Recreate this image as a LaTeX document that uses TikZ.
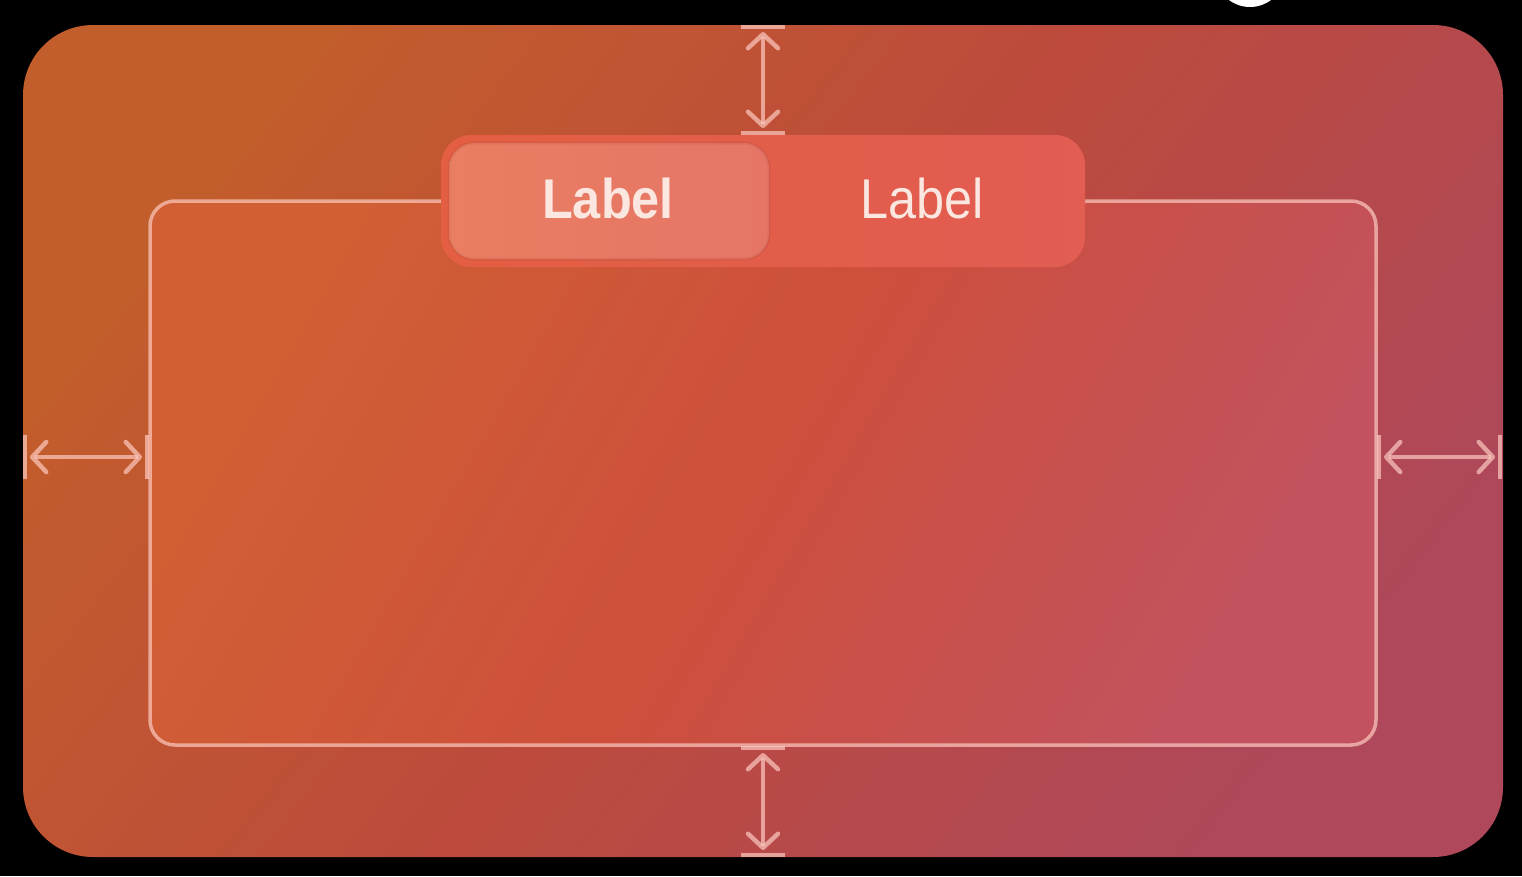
\documentclass[tikz,border=0pt]{standalone}
\usepackage{fontspec}
\setmainfont{Liberation Sans}[FakeStretch=0.9]
\usetikzlibrary{arrows.meta, positioning}
\definecolor{frameorange}{RGB}{194,93,44}
\definecolor{framered}{RGB}{189,74,60}
\definecolor{framepink}{RGB}{174,72,90}
\definecolor{innerorange}{RGB}{208,95,52}
\definecolor{innerred}{RGB}{205,79,60}
\definecolor{innerpink}{RGB}{194,82,94}
\definecolor{segleft}{RGB}{227,94,66}
\definecolor{segright}{RGB}{226,93,82}
\definecolor{selleft}{RGB}{233,126,98}
\definecolor{selright}{RGB}{230,117,102}
\definecolor{guide}{RGB}{255,205,196}
\definecolor{labeltext}{RGB}{251,230,224}
\pgfdeclarehorizontalshading{outerfill}{100bp}{color(0bp)=(frameorange); color(25bp)=(frameorange); color(50bp)=(framered); color(75bp)=(framepink); color(100bp)=(framepink)}
\pgfdeclarehorizontalshading{innerfill}{100bp}{color(0bp)=(innerorange); color(25bp)=(innerorange); color(50bp)=(innerred); color(75bp)=(innerpink); color(100bp)=(innerpink)}
\tikzstyle{guide line}=[draw=guide, draw opacity=0.68, line width=3.5pt]
\tikzstyle{dim arrow}=[guide line, line width=4.5pt, {Straight Barb[length=14pt,width=30pt,round]}-{Straight Barb[length=14pt,width=30pt,round]}, shorten <=5pt, shorten >=5pt]
\tikzstyle{dim tick}=[guide line, line width=4.5pt]
\tikzstyle{segment}=[rectangle, inner sep=0pt]
\tikzstyle{every node}=[font=\fontsize{56}{60}\selectfont]

\begin{document}
\begin{tikzpicture}[x=1pt,y=-1pt]
  \useasboundingbox (0,0) rectangle (1522,876);
  \clip (0,0) rectangle (1522,876);
  \fill[black] (0,0) rectangle (1522,876);
  \fill[white] (1250,-28) circle (35);
  % outer frame and content area
  \node[segment, minimum width=1480pt, minimum height=832pt, rounded corners=70pt,
        shading=outerfill, shading angle=-38] (frame) at (763,441) {};
  \node[segment, guide line, minimum width=1226pt, minimum height=544pt, rounded corners=25pt,
        shading=innerfill, shading angle=-30] (content) at (763,473) {};
  % segmented control
  \node[segment, minimum width=644pt, minimum height=132pt, rounded corners=30pt,
        left color=segleft, right color=segright] (control) at (763,201) {};
  \node[segment, draw=black, draw opacity=0.05, line width=3pt, minimum width=320pt, minimum height=116pt,
        rounded corners=25pt, left color=selleft, right color=selright] (selected) at (609,201) {};
  \node[text=labeltext, font=\fontsize{56}{60}\selectfont\bfseries] (label1) at (608,198) {Label};
  \node[text=labeltext] (label2) at (922,198) {Label};
  % spacing guides
  \coordinate (left a) at (25,457);
  \coordinate (left b) at (147,457);
  \coordinate (right a) at (1379,457);
  \coordinate (right b) at (1500,457);
  \coordinate (top a) at (763,27);
  \coordinate (top b) at (763,133);
  \coordinate (bottom a) at (763,748);
  \coordinate (bottom b) at (763,855);
  \foreach \c in {left a, left b, right a, right b}
    \draw[dim tick] (\c) ++(0,-22) -- ++(0,44);
  \foreach \c in {top a, top b, bottom a, bottom b}
    \draw[dim tick] (\c) ++(-22,0) -- ++(44,0);
  \draw[dim arrow] (left a) -- (left b);
  \draw[dim arrow] (right a) -- (right b);
  \draw[dim arrow] (top a) -- (top b);
  \draw[dim arrow] (bottom a) -- (bottom b);
\end{tikzpicture}
\end{document}
